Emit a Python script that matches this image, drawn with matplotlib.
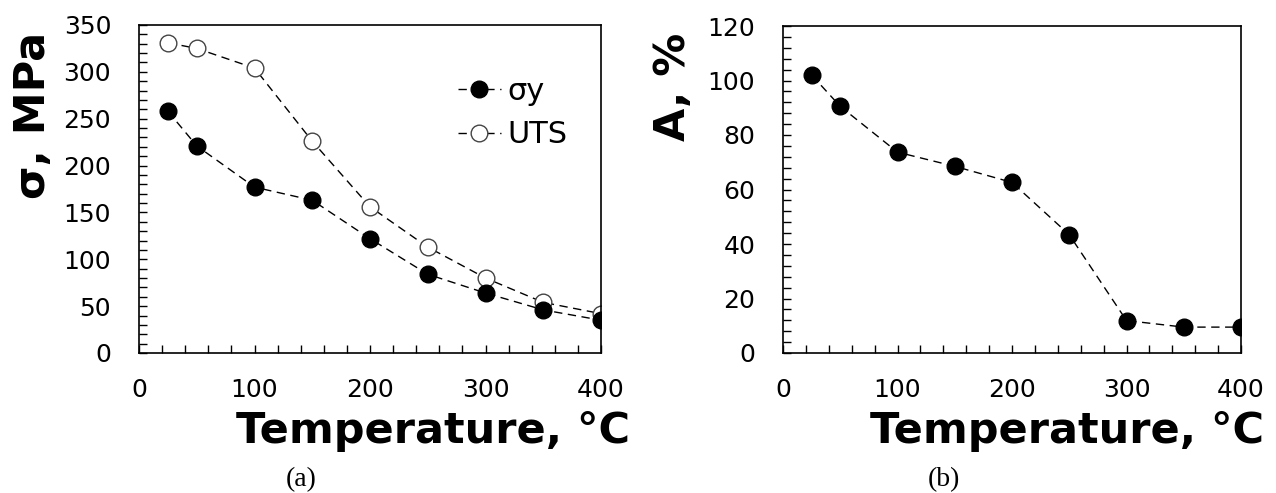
import numpy as np
import matplotlib
matplotlib.use("Agg")
import matplotlib.pyplot as plt
from matplotlib.ticker import MultipleLocator

# data
temp = [25, 50, 100, 150, 200, 250, 300, 350, 400]
sigma_y = [258, 221, 177, 163, 122, 84, 64, 46, 35]
uts = [331, 325, 304, 226, 156, 113, 80, 54, 42]
elong = [102, 90.5, 73.7, 68.5, 62.6, 43.4, 11.9, 9.5, 9.5]

W, H = 1276, 493
fig = plt.figure(figsize=(W/100, H/100), dpi=100)

def fx(px):
    return px/W

def fy(py):
    return (H - py)/H

def style_axes(ax, ymax, ystep, yminor):
    ax.set_xlim(0, 400)
    ax.set_ylim(0, ymax)
    ax.xaxis.set_major_locator(MultipleLocator(100))
    ax.xaxis.set_minor_locator(MultipleLocator(20))
    ax.yaxis.set_major_locator(MultipleLocator(ystep))
    ax.yaxis.set_minor_locator(MultipleLocator(yminor))
    ax.tick_params(which="both", direction="in", length=6, width=1,
                   top=False, right=False)
    ax.tick_params(axis="y", which="major", pad=20, labelsize=18)
    ax.tick_params(axis="x", which="major", pad=18, labelsize=18)
    for s in ax.spines.values():
        s.set_linewidth(1.2)

line_kw = dict(color="black", linestyle=(0, (6, 4)), linewidth=1.0, markersize=12)

# (a) strength
ax1 = fig.add_axes([fx(139), fy(353), fx(601) - fx(139), fy(25) - fy(353)])
ax1.plot(temp, uts, marker="o", markerfacecolor="white", markeredgecolor="#444444",
         markeredgewidth=1.0, label="UTS", zorder=2, **line_kw)
ax1.plot(temp, sigma_y, marker="o", markerfacecolor="black", markeredgecolor="black",
         label="σy", zorder=3, **line_kw)
style_axes(ax1, 350, 50, 10)
h, l = ax1.get_legend_handles_labels()
ax1.legend(h[::-1], l[::-1], loc="upper left", bbox_to_anchor=(fx(458), fy(77)),
           bbox_transform=fig.transFigure, frameon=False, fontsize=22,
           handlelength=1.4, handletextpad=0.23, labelspacing=0.47, borderpad=0,
           borderaxespad=0, markerscale=1.0)

# (b) elongation
ax2 = fig.add_axes([fx(783), fy(353), fx(1241) - fx(783), fy(26) - fy(353)])
ax2.plot(temp, elong, marker="o", markerfacecolor="black", markeredgecolor="black", **line_kw)
style_axes(ax2, 120, 20, 4)

# axis titles
lab_kw = dict(fontsize=31, fontweight="bold", family="DejaVu Sans")
fig.text(fx(630), fy(443), "Temperature, °C", ha="right", va="baseline", **lab_kw)
fig.text(fx(1264), fy(443), "Temperature, °C", ha="right", va="baseline", **lab_kw)
fig.text(fx(12), fy(32), "σ, MPa", rotation=90, ha="left", va="top", **lab_kw)
fig.text(fx(652), fy(33), "A, %", rotation=90, ha="left", va="top", **lab_kw)

fig.text(fx(301), fy(480), "(a)", ha="center", va="center", fontsize=20, family="Liberation Serif")
fig.text(fx(944), fy(480), "(b)", ha="center", va="center", fontsize=20, family="Liberation Serif")

fig.savefig("out.png", dpi=100)
